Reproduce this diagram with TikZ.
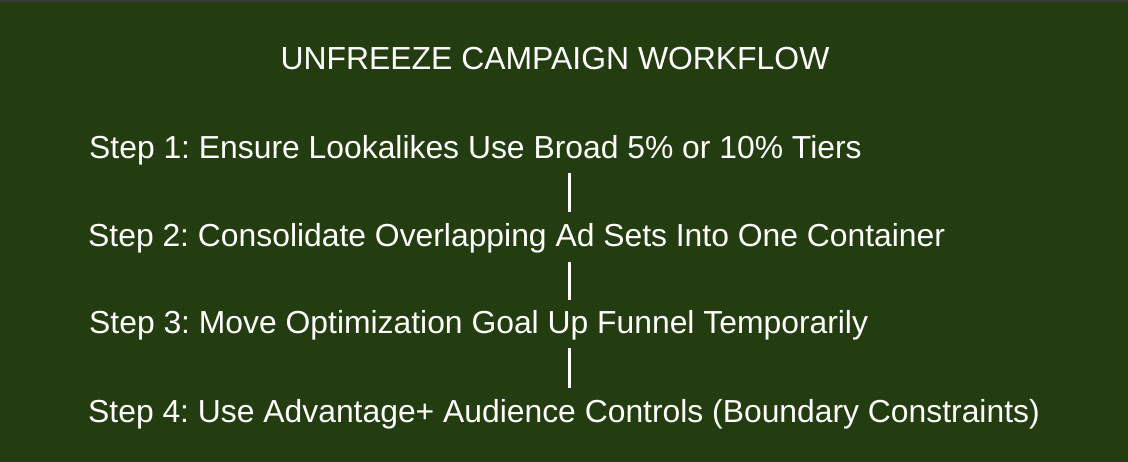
\documentclass[tikz,border=0pt]{standalone}
\usepackage{fontspec}
\setmainfont{Liberation Sans}
\frenchspacing
\definecolor{bgreen}{HTML}{233D10}
\definecolor{topstrip}{HTML}{3A3A3A}
\begin{document}
\begin{tikzpicture}[x=1pt,y=-1pt,
  steptext/.style={text=white,inner sep=0pt,anchor=base west,font=\fontsize{31.85}{36}\selectfont},
  titletext/.style={text=white,inner sep=0pt,anchor=base,font=\fontsize{31.9}{36}\selectfont},
  bar/.style={draw=white,line width=2.6pt}]
\fill[bgreen] (0,0) rectangle (1128,462);
\fill[topstrip] (0,0) rectangle (1128,2);
\useasboundingbox (0,0) rectangle (1128,462);
\node[titletext] (title) at (555,70) {UNFREEZE CAMPAIGN WORKFLOW};
\node[steptext] (s1) at (89,159) {Step 1: Ensure Lookalikes Use Broad 5\% or 10\% Tiers};
\node[steptext] (s2) at (88,247) {Step 2: Consolidate Overlapping Ad Sets Into One Container};
\node[steptext] (s3) at (89,334) {Step 3: Move Optimization Goal Up Funnel Temporarily};
\node[steptext] (s4) at (88,422) {Step 4: Use Advantage+ Audience Controls (Boundary Constraints)};
\coordinate (b1t) at (569.5,173);
\coordinate (b1b) at (569.5,212);
\coordinate (b2t) at (569.5,262);
\coordinate (b2b) at (569.5,300);
\coordinate (b3t) at (569.5,348);
\coordinate (b3b) at (569.5,388);
\draw[bar] (b1t) -- (b1b);
\draw[bar] (b2t) -- (b2b);
\draw[bar] (b3t) -- (b3b);
\end{tikzpicture}
\end{document}
